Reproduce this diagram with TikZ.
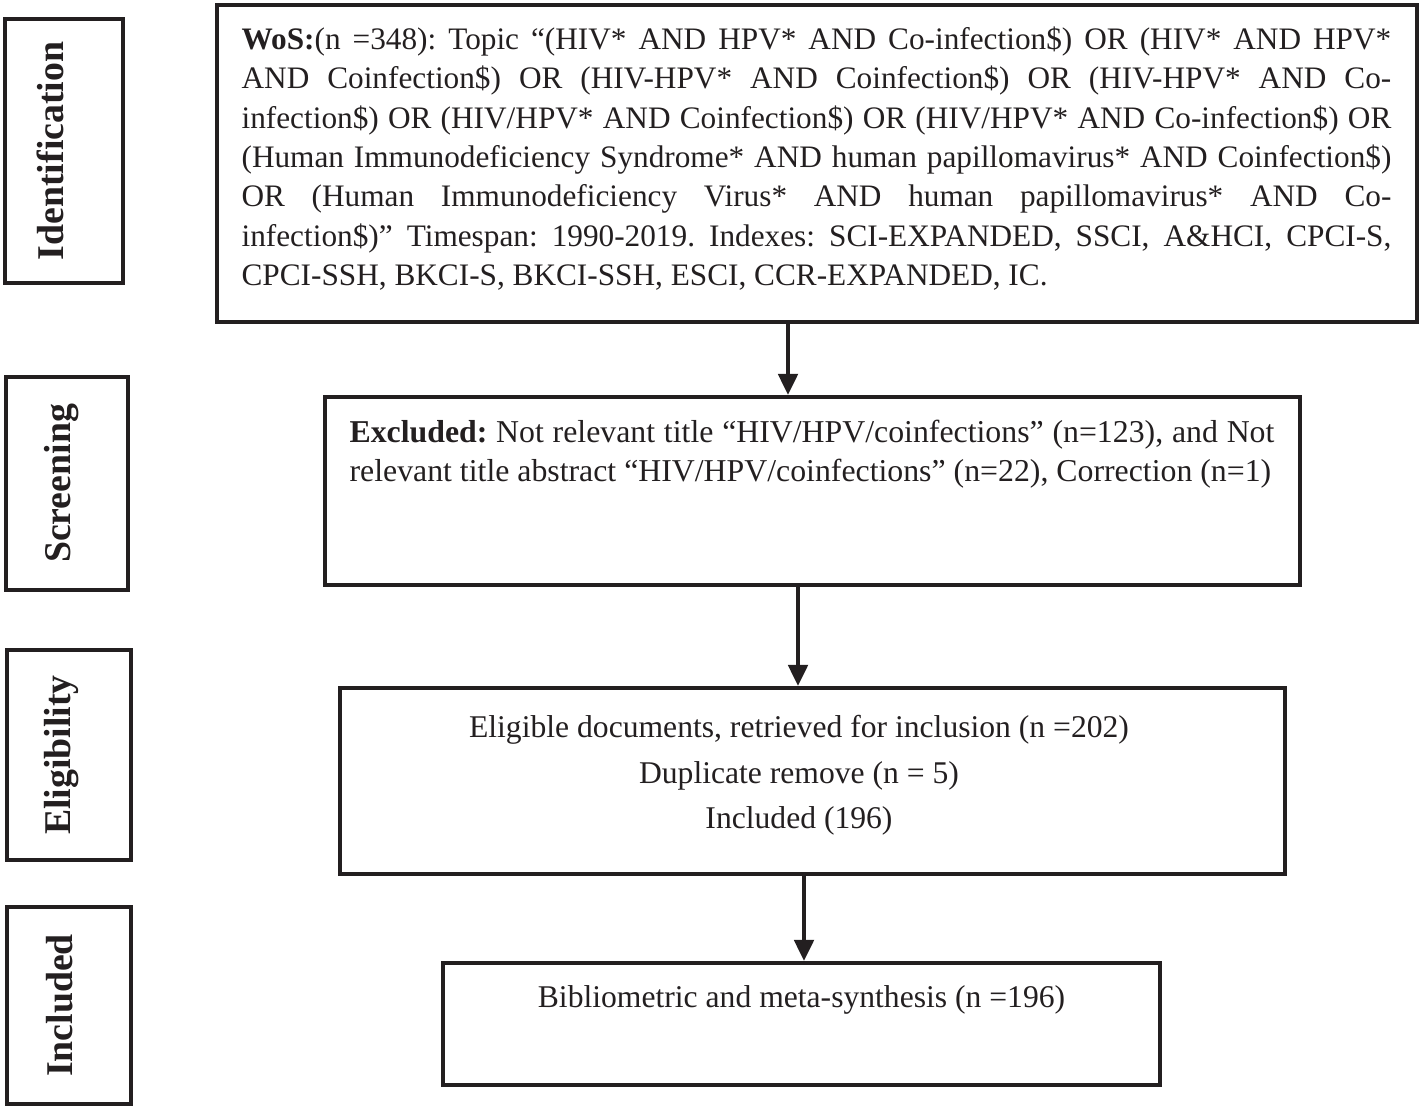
\documentclass[tikz,border=0pt]{standalone}
\usepackage{fontspec}
\setmainfont{Liberation Serif}
\usepackage{xcolor}
\usepackage{tikz}
\usetikzlibrary{arrows.meta,positioning}
\definecolor{inkblack}{RGB}{35, 31, 32}

\begin{document}
\begin{tikzpicture}[x=0.02cm, y=-0.02cm,
        box/.style={draw=inkblack, line width=2.3pt, inner sep=0pt},
        stagelabel/.style={rotate=90, anchor=base, text=inkblack, inner sep=0pt,
            font=\fontsize{21.5pt}{24pt}\selectfont\bfseries},
        bodytext/.style={text=inkblack, inner sep=0pt,
            font=\fontsize{17.8pt}{22.4pt}\selectfont\frenchspacing},
        flow/.style={draw=inkblack, line width=2.3pt,
            -{Triangle[length=12pt, width=11pt]}}]
            \useasboundingbox (0,0) rectangle (1422,1108);

            % Stages on the left
            \node[box, minimum width=2.36cm, minimum height=5.28cm] (identbox) at (64,151) {};
            \node[stagelabel] (identlabel) at ([xshift=-0.02cm]identbox.center) {Identification};
            
            \node[box, minimum width=2.44cm, minimum height=4.26cm] (screenbox) at (67,483.5) {};
            \node[stagelabel] (screenlabel) at ([xshift=0.06cm]screenbox.center) {Screening};
            
            \node[box, minimum width=2.48cm, minimum height=4.2cm] (eligbox) at (69,755) {};
            \node[stagelabel] (eliglabel) at ([xshift=0.02cm]eligbox.center) {Eligibility};
            
            \node[box, minimum width=2.48cm, minimum height=3.94cm] (inclbox) at (69,1005.5) {};
            \node[stagelabel] (incllabel) at ([xshift=0.06cm]inclbox.center) {Included};
            
            % Records at each stage
            \node[box, minimum width=24cm, minimum height=6.34cm] (wos) at (817,163.5) {};
            \node[bodytext, text width=23cm, align=justify] (wostext) at (816.5,158.5)
                {\textbf{WoS:}(n =348): Topic “(HIV* AND HPV* AND Co-infection\$) OR (HIV* AND HPV*\linebreak
                AND Coinfection\$) OR (HIV-HPV* AND Coinfection\$) OR (HIV-HPV* AND Co-\linebreak
                infection\$) OR (HIV/HPV* AND Coinfection\$) OR (HIV/HPV* AND Co-infection\$) OR\linebreak
                (Human Immunodeficiency Syndrome* AND human papillomavirus* AND Coinfection\$)\linebreak
                OR (Human Immunodeficiency Virus* AND human papillomavirus* AND Co-\linebreak
                infection\$)” Timespan: 1990-2019. Indexes: SCI-EXPANDED, SSCI, A\&HCI, CPCI-S,\linebreak
                CPCI-SSH, BKCI-S, BKCI-SSH, ESCI, CCR-EXPANDED, IC.};
            
            \node[box, minimum width=19.5cm, minimum height=3.76cm] (excl) at (812.5,491) {};
            \node[bodytext, text width=18.5cm, align=justify,
                font=\fontsize{18.1pt}{22.2pt}\selectfont\frenchspacing] (excltext) at (812,454)
                {\textbf{Excluded:} Not relevant title “HIV/HPV/coinfections” (n=123), and Not\linebreak
                relevant title abstract “HIV/HPV/coinfections” (n=22), Correction (n=1)};
            
            \node[box, minimum width=18.9cm, minimum height=3.72cm] (elig) at (812.5,781) {};
            \node[bodytext, align=center, font=\fontsize{18pt}{25.8pt}\selectfont] (eligtext) at (799,775.5)
                {Eligible documents, retrieved for inclusion (n =202)\\Duplicate remove (n = 5)\\Included (196)};
            
            \node[box, minimum width=14.34cm, minimum height=2.44cm] (biblio) at (801.5,1024) {};
            \node[bodytext, font=\fontsize{18pt}{22pt}\selectfont] (bibliotext) at (801.5,1000)
                {Bibliometric and meta-synthesis (n =196)};
            
            % Arrows
            \coordinate (arrowa) at (788,0);
            \coordinate (arrowb) at (798,0);
            \coordinate (arrowc) at (804,0);
            \draw[flow] (arrowa |- wos.south) -- (arrowa |- excl.north);
            \draw[flow] (arrowb |- excl.south) -- (arrowb |- elig.north);
            \draw[flow] (arrowc |- elig.south) -- (arrowc |- biblio.north);
        \end{tikzpicture}
\end{document}
